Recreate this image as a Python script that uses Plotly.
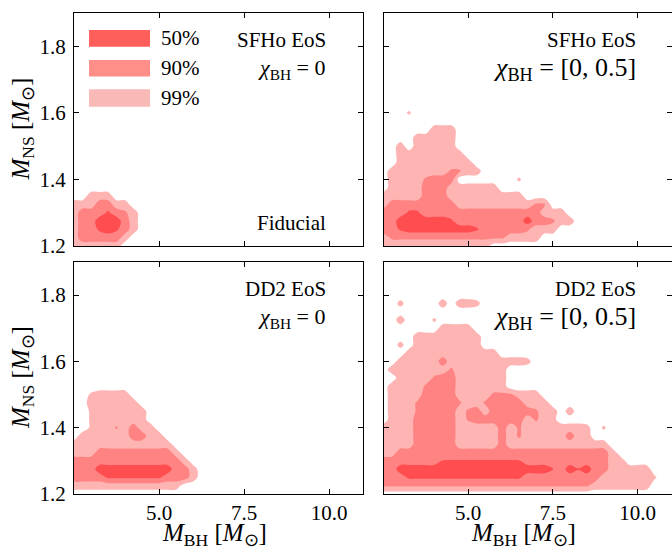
import plotly.graph_objects as go

# ---------------- data ----------------
# grid of bin centres
x_bins = [2.25, 2.5, 2.75, 3.0, 3.25, 3.5, 3.75, 4.0, 4.25, 4.5, 4.75, 5.0, 5.25, 5.5,
          5.75, 6.0, 6.25, 6.5, 6.75, 7.0, 7.25, 7.5, 7.75, 8.0, 8.25, 8.5, 8.75, 9.0,
          9.25, 9.5, 9.75, 10.0, 10.25, 10.5, 10.75]
y_bins = [1.175, 1.2, 1.225, 1.25, 1.275, 1.3, 1.325, 1.35, 1.375, 1.4, 1.425, 1.45,
          1.475, 1.5, 1.525, 1.55, 1.575, 1.6, 1.625, 1.65, 1.675, 1.7, 1.725, 1.75,
          1.775, 1.8, 1.825, 1.85, 1.875]

# credible-level code per bin (rows from lowest M_NS upward); 0 = outside, 1 = 99%, 2 = 90%, 3 = 50%
level_code = {'0': 0.0, 'h': 0.65, 'k': 0.8, '1': 1.0, 'q': 1.6, 'm': 1.65,
              '2': 2.0, 'o': 2.55, 'n': 2.65, '3': 3.0}

sfho_nospin = [
    "1111111",
    "1111111",
    "11222221",
    "1122n3n21",
    "112233321",
    "11222n2m1",
    "01112211",
    "0001110",
]

sfho_spin = [
    "1111111111111",
    "11111111111111",
    "11mmmmmmmmmmmmmm1111",
    "122n33333333n22222m111",
    "122333333n22222222322m11",
    "1222nn22222222222222111",
    "0122222222111111111mm",
    "011111222111111111",
    "001111222111111",
    "001111m2220000000h",
    "001111111mq11",
    "000111111111",
    "00011111111",
    "0001011111",
    "0000011111",
    "0000000111",
    "0",
    "0000h",
]

dd2_nospin = [
    "0",
    "0",
    "11111111111111",
    "12222nnnnnnn2221",
    "2222333333333221",
    "222222222222221",
    "11112222222221",
    "1111111111111",
    "001111112211",
    "000h11q1211",
    "000h111111",
    "000h111111",
    "000111111",
    "000h1111",
]

dd2_spin = [
    "0",
    "0",
    "mmmmmmmmmmmmmmmmmmmmmmmmmm1111111",
    "2222nnnnnnnnnnnnnn222222222111111h",
    "222333333333333333333o23o32211111",
    "22222222oooooooooo222222222211",
    "11122222222222222222222222221",
    "1111122222111112111111111111",
    "11111222221111121m11111211",
    "11111222221111121m1111111k0h",
    "00111222221q2222221m1k",
    "00111m22221m2122222m1101",
    "00111m2222m11m222211100",
    "00111122221111mmm111",
    "001111m222111111",
    "0001111m22111111",
    "001111111m111111",
    "000111112111111111k",
    "000011111111111",
    "000k011111111",
    "0000011111111",
    "000000001111",
    "0001000h",
    "0",
    "000k00001011k",
]

contour_colors = ["rgba(255,255,255,0)", "#FFB4B4", "#FF8383", "#FF4D50"]
legend_colors = ["#FF5F5B", "#FF8D88", "#F9B9B6"]
legend_labels = ["50%", "90%", "99%"]

x_ticks = [5.0, 7.5, 10.0]
x_ticktext = ["5.0", "7.5", "10.0"]
y_ticks = [1.2, 1.4, 1.6, 1.8]
y_ticktext = ["1.2", "1.4", "1.6", "1.8"]

panel_eos = ["SFHo EoS", "SFHo EoS", "DD2 EoS", "DD2 EoS"]
panel_spin = ["<i>χ</i><sub>BH</sub> = 0", "<i>χ</i><sub>BH</sub> = [0, 0.5]",
              "<i>χ</i><sub>BH</sub> = 0", "<i>χ</i><sub>BH</sub> = [0, 0.5]"]
title_x = "<i>M</i><sub>BH</sub> [<i>M</i><sub>⊙</sub>]"
title_y = "<i>M</i><sub>NS</sub> [<i>M</i><sub>⊙</sub>]"


def decode(rows):
    grid = []
    for j in range(len(y_bins)):
        s = rows[j] if j < len(rows) else ""
        s = s.ljust(len(x_bins), "0")[:len(x_bins)]
        grid.append([level_code[c] for c in s])
    return grid


panels = [sfho_nospin, sfho_spin, dd2_nospin, dd2_spin]

FONT = "Liberation Serif, Times New Roman, serif"
fig = go.Figure()

scale = [[0.0, contour_colors[0]], [1 / 3, contour_colors[1]],
         [2 / 3, contour_colors[2]], [1.0, contour_colors[3]]]

for k, rows in enumerate(panels):
    xa = "x" if k == 0 else f"x{k+1}"
    ya = "y" if k == 0 else f"y{k+1}"
    fig.add_trace(go.Contour(
        x=x_bins, y=y_bins, z=decode(rows),
        xaxis=xa, yaxis=ya,
        contours=dict(start=0.5, end=2.5, size=1, coloring="fill", showlines=False),
        colorscale=scale, showscale=False, line=dict(width=0),
        hoverinfo="skip",
    ))

# ---------------- layout ----------------
W, H = 672, 549
ML, MT, MB = 74, 13, 55
PW, PH = W - ML, H - MT - MB
xdom_left = [0.0, 289 / PW]
xdom_right = [(383.5 - ML) / PW, (671.5 - ML) / PW]
ydom_top = [(494 - 246) / PH, 1.0]
ydom_bot = [0.0, (494 - 262) / PH]

axis_common = dict(
    showline=True, linecolor="black", linewidth=1, mirror="ticks",
    ticks="inside", ticklen=5, tickwidth=1, tickcolor="black",
    showgrid=False, zeroline=False, automargin=False,
    tickfont=dict(family=FONT, size=21, color="black"),
)

layout_axes = {}
specs = [
    (xdom_left, ydom_top, False, True),
    (xdom_right, ydom_top, False, False),
    (xdom_left, ydom_bot, True, True),
    (xdom_right, ydom_bot, True, False),
]
for k, (xd, yd, xlab, ylab) in enumerate(specs):
    xname = "xaxis" if k == 0 else f"xaxis{k+1}"
    yname = "yaxis" if k == 0 else f"yaxis{k+1}"
    yref = "y" if k == 0 else f"y{k+1}"
    xref = "x" if k == 0 else f"x{k+1}"
    layout_axes[xname] = dict(axis_common, domain=xd, anchor=yref, range=[2.5, 11.0],
                              tickvals=x_ticks, ticktext=x_ticktext, showticklabels=xlab,
                              ticklabelstandoff=0)
    layout_axes[yname] = dict(axis_common, domain=yd, anchor=xref, range=[1.2, 1.9],
                              tickvals=y_ticks, ticktext=y_ticktext, showticklabels=ylab,
                              ticklabelstandoff=3)

annotations = []
shapes = []
text_font = dict(family=FONT, size=21, color="black")
title_font = dict(family=FONT, size=25, color="black")

# axis titles (paper coordinates of the plotting area)
for px in (214, 523):
    annotations.append(dict(text=title_x, x=(px - ML) / PW, y=(494 - 534) / PH,
                            xref="paper", yref="paper", xanchor="center", yanchor="middle",
                            showarrow=False, font=title_font))
for py in (129.5, 378):
    annotations.append(dict(text=title_y, x=(22 - ML) / PW, y=(494 - py) / PH,
                            xref="paper", yref="paper", xanchor="center", yanchor="middle",
                            textangle=-90, showarrow=False, font=title_font))

right_x = [0.879, 0.884, 0.879, 0.884]
spin_size = [22, 26, 22, 26]
for k in range(4):
    xr = ("x" if k == 0 else f"x{k+1}") + " domain"
    yr = ("y" if k == 0 else f"y{k+1}") + " domain"
    annotations.append(dict(text=panel_eos[k], x=right_x[k], y=0.884, xref=xr, yref=yr,
                            xanchor="right", yanchor="middle", showarrow=False, font=text_font))
    annotations.append(dict(text=panel_spin[k], x=right_x[k], y=0.76, xref=xr, yref=yr,
                            xanchor="right", yanchor="middle", showarrow=False,
                            font=dict(family=FONT, size=spin_size[k], color="black")))
annotations.append(dict(text="Fiducial", x=0.879, y=0.099, xref="x domain", yref="y domain",
                        xanchor="right", yanchor="middle", showarrow=False, font=text_font))

leg_y = [(0.855, 0.927), (0.727, 0.798), (0.598, 0.6725)]
leg_text_y = [0.891, 0.764, 0.637]
for c, lab, (y0, y1), ty in zip(legend_colors, legend_labels, leg_y, leg_text_y):
    shapes.append(dict(type="rect", xref="x domain", yref="y domain",
                       x0=0.052, x1=0.263, y0=y0, y1=y1,
                       fillcolor=c, line=dict(width=0)))
    annotations.append(dict(text=lab, x=0.294, y=ty, xref="x domain", yref="y domain",
                            xanchor="left", yanchor="middle", showarrow=False, font=text_font))

fig.update_layout(
    width=W, height=H,
    margin=dict(l=ML, r=0, t=MT, b=MB, pad=0),
    paper_bgcolor="white", plot_bgcolor="white",
    showlegend=False,
    font=dict(family=FONT, color="black"),
    annotations=annotations, shapes=shapes,
    **layout_axes,
)

fig.write_html(
    "out.html",
    config={"displayModeBar": False},
    post_script="document.body.style.margin='0';document.body.style.overflow='hidden';",
)
